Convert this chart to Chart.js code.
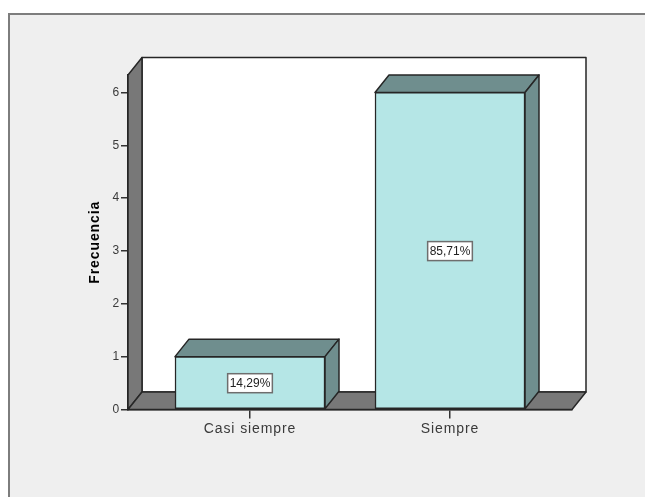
<!DOCTYPE html>
<html>
<head>
<meta charset="utf-8">
<style>
  html, body { margin: 0; padding: 0; background: #fff; overflow: hidden; }
  #panel { position: absolute; left: 8px; top: 13px; right: 0; bottom: 0; background: #efefef;
           border-left: 2px solid #7d7d7d; border-top: 2px solid #7d7d7d; }
  #wrap { position: absolute; left: 0; top: 0; width: 645px; height: 497px; }
</style>
</head>
<body>
<div id="panel"></div>
<div id="wrap"><canvas id="grafico" width="645" height="497"></canvas></div>
<script src="https://cdn.jsdelivr.net/npm/chart.js@4"></script>
<script>
const categories = ['Casi siempre', 'Siempre'];
const frecuencias = [1, 6];
const porcentajes = ['14,29%', '85,71%'];
const yTicks = [0, 1, 2, 3, 4, 5, 6];

const DX = 14, DY = 17.5;
const LINE = '#262626', WALL = '#787878', SIDE = '#6f8e8e', FRONT = '#b5e6e6';

function poly(ctx, pts, fill) {
    ctx.beginPath();
    pts.forEach((p, i) => i ? ctx.lineTo(p[0], p[1]) : ctx.moveTo(p[0], p[1]));
    ctx.closePath();
    ctx.fillStyle = fill;
    ctx.fill();
    ctx.stroke();
}

// paredes, suelo y caras laterales de las barras
const caja3d = {
    id: 'caja3d',
    beforeDraw(chart) {
        // textos de los ejes algo más abiertos
        chart.ctx.letterSpacing = '0.9px';
    },
    beforeDatasetsDraw(chart) {
        const { ctx, chartArea: a } = chart;
        ctx.save();
        ctx.strokeStyle = LINE;
        ctx.lineWidth = 1.5;
        ctx.lineJoin = 'round';
        poly(ctx, [[a.left + DX, a.top - DY], [a.right + DX, a.top - DY], [a.right + DX, a.bottom - DY], [a.left + DX, a.bottom - DY]], '#ffffff');
        poly(ctx, [[a.left, a.top], [a.left + DX, a.top - DY], [a.left + DX, a.bottom - DY], [a.left, a.bottom]], WALL);
        poly(ctx, [[a.left, a.bottom], [a.left + DX, a.bottom - DY], [a.right + DX, a.bottom - DY], [a.right, a.bottom]], WALL);
        chart.getDatasetMeta(0).data.forEach(bar => {
            const l = bar.x - bar.width / 2, r = bar.x + bar.width / 2;
            poly(ctx, [[l, bar.y], [l + DX, bar.y - DY], [r + DX, bar.y - DY], [r, bar.y]], SIDE);
            poly(ctx, [[r, bar.y], [r + DX, bar.y - DY], [r + DX, bar.base - DY], [r, bar.base]], SIDE);
        });
        ctx.restore();
    },
    afterDatasetsDraw(chart) {
        const { ctx } = chart;
        ctx.save();
        ctx.letterSpacing = '0px';
        ctx.font = '12px "Liberation Sans"';
        ctx.textAlign = 'center';
        ctx.textBaseline = 'middle';
        chart.getDatasetMeta(0).data.forEach((bar, i) => {
            const cy = (bar.y + bar.base) / 2;
            const w = ctx.measureText(porcentajes[i]).width + 4;
            ctx.fillStyle = '#ffffff';
            ctx.strokeStyle = '#6e6e6e';
            ctx.lineWidth = 1.5;
            ctx.fillRect(bar.x - w / 2, cy - 9, w, 19);
            ctx.strokeRect(bar.x - w / 2, cy - 9, w, 19);
            ctx.fillStyle = '#222222';
            ctx.fillText(porcentajes[i], bar.x, cy + 1);
        });
        ctx.restore();
    }
};

new Chart(document.getElementById('grafico').getContext('2d'), {
    type: 'bar',
    data: {
        datasets: [{
            label: 'Frecuencia',
            data: frecuencias.map((v, i) => ({ x: i, y: v })),
            backgroundColor: FRONT,
            borderColor: LINE,
            borderWidth: 1.5,
            borderSkipped: false,
            barThickness: 150
        }]
    },
    options: {
        responsive: false,
        animation: false,
        layout: { padding: { top: 75, right: 73 } },
        plugins: { legend: { display: false }, tooltip: { enabled: false } },
        scales: {
            x: {
                type: 'linear',
                offset: false,
                min: -0.61,
                max: 1.61,
                afterBuildTicks: scale => { scale.ticks = categories.map((_, i) => ({ value: i })); },
                afterFit: scale => { scale.height = 87.5; },
                grid: { offset: false, drawOnChartArea: false, tickLength: 9, color: '#333333', lineWidth: 1.5 },
                border: { color: LINE, width: 1.5 },
                ticks: {
                    callback: v => categories[v],
                    autoSkip: false,
                    maxRotation: 0,
                    padding: 2,
                    color: '#3a3a3a',
                    font: { family: '"Liberation Sans"', size: 14 }
                }
            },
            y: {
                min: 0,
                max: 6.33,
                afterBuildTicks: scale => { scale.ticks = yTicks.map(v => ({ value: v })); },
                afterFit: scale => { scale.width = 128; },
                grid: { drawOnChartArea: false, tickLength: 7, color: '#333333', lineWidth: 1.5 },
                border: { color: LINE, width: 1.5 },
                title: {
                    display: true,
                    text: 'Frecuencia',
                    color: '#000000',
                    font: { family: '"Liberation Sans"', size: 14, weight: 'bold' },
                    padding: { top: 87, bottom: 0 }
                },
                ticks: {
                    padding: 1,
                    color: '#3a3a3a',
                    font: { family: '"Liberation Sans"', size: 12 }
                }
            }
        }
    },
    plugins: [caja3d]
});
</script>
</body>
</html>
